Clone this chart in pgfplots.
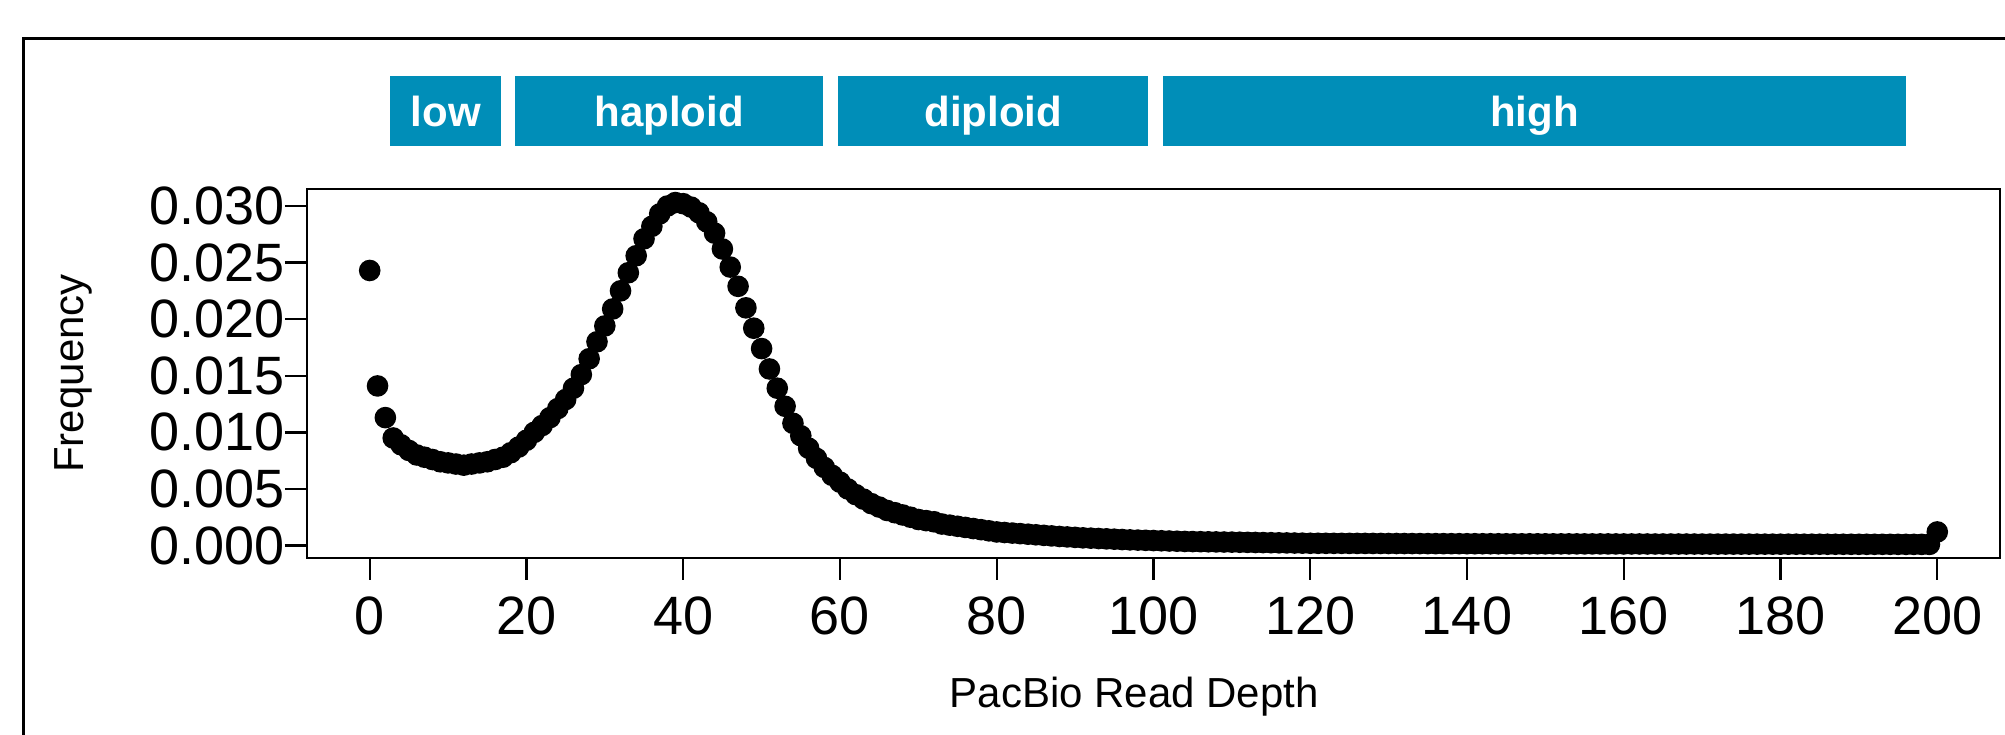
\documentclass[border=0pt]{standalone}
\usepackage{fontspec}
\setmainfont{Liberation Sans}
\usepackage{pgfplots}
\usepackage{pgfplotstable}
\pgfplotsset{compat=1.18}
\definecolor{binblue}{RGB}{0,142,184}

% read depth histogram, one row per depth
\pgfplotstableread[row sep=\\]{
d f\\
0 0.0243\\ 1 0.0141\\ 2 0.0113\\ 3 0.0095\\ 4 0.0089\\ 5 0.0084\\ 6 0.0080\\ 7 0.0078\\ 8 0.0076\\ 9 0.0074\\
10 0.0073\\ 11 0.0072\\ 12 0.0071\\ 13 0.0072\\ 14 0.0073\\ 15 0.0074\\ 16 0.0076\\ 17 0.0078\\ 18 0.0082\\ 19 0.0087\\
20 0.0093\\ 21 0.0100\\ 22 0.0106\\ 23 0.0113\\ 24 0.0121\\ 25 0.0129\\ 26 0.0139\\ 27 0.0151\\ 28 0.0165\\ 29 0.0180\\
30 0.0194\\ 31 0.0209\\ 32 0.0225\\ 33 0.0241\\ 34 0.0256\\ 35 0.0271\\ 36 0.0282\\ 37 0.0293\\ 38 0.0300\\ 39 0.0303\\
40 0.0302\\ 41 0.0299\\ 42 0.0294\\ 43 0.0286\\ 44 0.0276\\ 45 0.0262\\ 46 0.0246\\ 47 0.0229\\ 48 0.0210\\ 49 0.0192\\
50 0.0174\\ 51 0.0156\\ 52 0.0139\\ 53 0.0123\\ 54 0.0108\\ 55 0.0097\\ 56 0.0086\\ 57 0.0077\\ 58 0.0069\\ 59 0.0062\\
60 0.0056\\ 61 0.0050\\ 62 0.0045\\ 63 0.0041\\ 64 0.0037\\ 65 0.0034\\ 66 0.0031\\ 67 0.0029\\ 68 0.0027\\ 69 0.0025\\
70 0.0023\\ 71 0.0022\\ 72 0.0021\\ 73 0.0019\\ 74 0.0018\\ 75 0.0017\\ 76 0.0016\\ 77 0.0015\\ 78 0.0014\\ 79 0.0013\\
80 0.00120\\ 81 0.00115\\ 82 0.00110\\ 83 0.00105\\ 84 0.00100\\ 85 0.00095\\ 86 0.00090\\ 87 0.00085\\ 88 0.00080\\ 89 0.00076\\
90 0.00072\\ 91 0.00068\\ 92 0.00065\\ 93 0.00062\\ 94 0.00059\\ 95 0.00056\\ 96 0.00053\\ 97 0.00050\\ 98 0.00048\\ 99 0.00046\\
100 0.00044\\ 101 0.00042\\ 102 0.00040\\ 103 0.00038\\ 104 0.00036\\ 105 0.00035\\ 106 0.00034\\ 107 0.00033\\ 108 0.00032\\ 109 0.00031\\
110 0.00030\\ 111 0.00029\\ 112 0.00028\\ 113 0.00027\\ 114 0.00026\\ 115 0.00025\\ 116 0.00024\\ 117 0.00023\\ 118 0.00022\\ 119 0.00021\\
120 0.000200\\ 121 0.000198\\ 122 0.000196\\ 123 0.000194\\ 124 0.000192\\ 125 0.000190\\ 126 0.000188\\ 127 0.000186\\ 128 0.000184\\ 129 0.000182\\
130 0.000180\\ 131 0.000178\\ 132 0.000176\\ 133 0.000174\\ 134 0.000172\\ 135 0.000170\\ 136 0.000168\\ 137 0.000166\\ 138 0.000164\\ 139 0.000162\\
140 0.000160\\ 141 0.000159\\ 142 0.000158\\ 143 0.000157\\ 144 0.000156\\ 145 0.000155\\ 146 0.000154\\ 147 0.000153\\ 148 0.000152\\ 149 0.000151\\
150 0.000150\\ 151 0.000149\\ 152 0.000148\\ 153 0.000147\\ 154 0.000146\\ 155 0.000145\\ 156 0.000144\\ 157 0.000143\\ 158 0.000142\\ 159 0.000141\\
160 0.000140\\ 161 0.000139\\ 162 0.000138\\ 163 0.000137\\ 164 0.000136\\ 165 0.000135\\ 166 0.000134\\ 167 0.000133\\ 168 0.000132\\ 169 0.000131\\
170 0.000130\\ 171 0.000129\\ 172 0.000128\\ 173 0.000127\\ 174 0.000126\\ 175 0.000125\\ 176 0.000124\\ 177 0.000123\\ 178 0.000122\\ 179 0.000121\\
180 0.000120\\ 181 0.000119\\ 182 0.000118\\ 183 0.000117\\ 184 0.000116\\ 185 0.000115\\ 186 0.000114\\ 187 0.000113\\ 188 0.000112\\ 189 0.000111\\
190 0.000110\\ 191 0.000109\\ 192 0.000108\\ 193 0.000107\\ 194 0.000106\\ 195 0.000105\\ 196 0.000104\\ 197 0.000103\\ 198 0.000102\\ 199 0.000101\\
200 0.00120\\
}\depth

\begin{document}
\fontsize{10.5}{12.6}\selectfont
\begin{tikzpicture}[x=0.25pt,y=0.25pt]
% outer frame, runs off the right and bottom edges
\draw[line width=0.75pt] (23,-200) rectangle (2200,696.6);

\begin{axis}[
    at={(76.75pt,44.25pt)}, anchor=south west,
    scale only axis, width=423.25pt, height=92.25pt,
    xmin=-8, xmax=208, ymin=-0.0011, ymax=0.0315,
    clip=false,
    xtick={0,20,...,200},
    ytick={0,0.005,0.010,0.015,0.020,0.025,0.030},
    tick align=outside, tick pos=left,
    major tick length=5.5pt,
    every tick/.style={black, line width=0.6pt},
    axis line style={line width=0.6pt},
    /pgf/number format/assume math mode=true,
    tick label style={font=\fontsize{13.5}{15}\selectfont},
    yticklabel style={inner sep=0pt, /pgf/number format/.cd, fixed, fixed zerofill, precision=3},
    xticklabel style={inner sep=0pt, yshift=-4pt},
    scaled y ticks=false,
]
\fill[binblue] (axis cs:2.6,0.03529) rectangle (axis cs:16.8,0.04152);
\fill[binblue] (axis cs:18.6,0.03529) rectangle (axis cs:57.8,0.04152);
\fill[binblue] (axis cs:59.8,0.03529) rectangle (axis cs:99.3,0.04152);
\fill[binblue] (axis cs:101.2,0.03529) rectangle (axis cs:196,0.04152);
\node[text=white, font=\bfseries, anchor=base] at (axis cs:9.7,0.03699) {low};
\node[text=white, font=\bfseries, anchor=base] at (axis cs:38.2,0.03699) {haploid};
\node[text=white, font=\bfseries, anchor=base] at (axis cs:79.55,0.03699) {diploid};
\node[text=white, font=\bfseries, anchor=base] at (axis cs:148.6,0.03699) {high};

\addplot[only marks, mark=*, mark size=2.5pt, black] table[x=d, y=f] {\depth};

% axis titles, placed as R places them
\node[anchor=base] at ([xshift=-4.8pt, yshift=-37.5pt]rel axis cs:0.5,0) {PacBio Read Depth};
\node[rotate=90, anchor=center] at ([xshift=-58.5pt]rel axis cs:0,0.5) {Frequency};
\end{axis}

\pgfresetboundingbox
\useasboundingbox (0,0) rectangle (2005,735);
\end{tikzpicture}
\end{document}
